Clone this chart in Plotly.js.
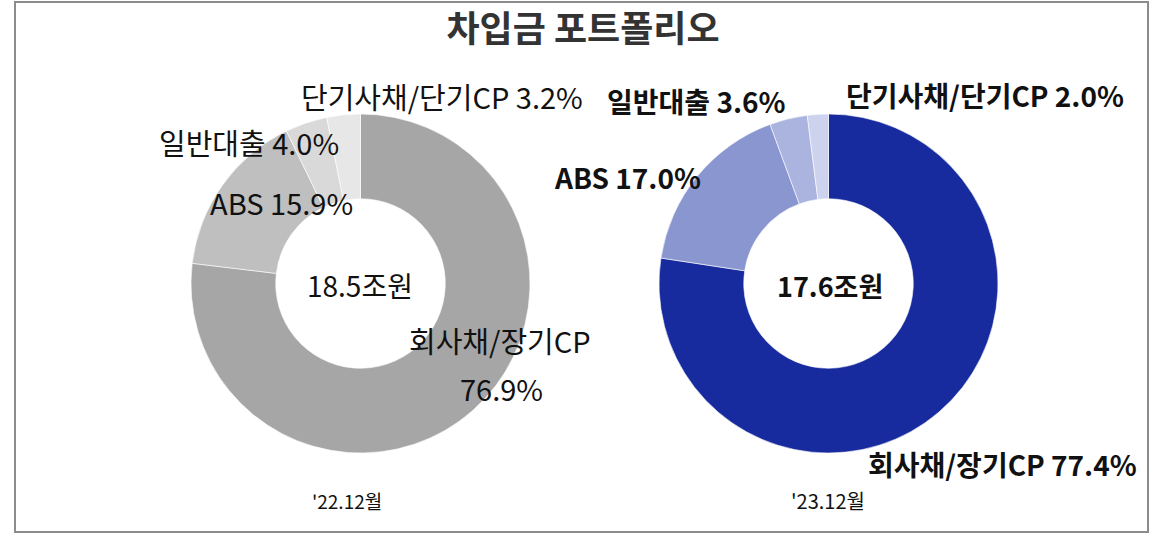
<!DOCTYPE html>
<html>
<head>
<meta charset="utf-8">
<script src="https://cdn.plot.ly/plotly-3.0.1.min.js"></script>
<style>
html,body{margin:0;padding:0;background:#fff;}
#chart{width:1165px;height:534px;}
</style>
</head>
<body>
<div id="chart"></div>
<script>
const categories = ['회사채/장기CP', 'ABS', '일반대출', '단기사채/단기CP'];
const values2022 = [76.9, 15.9, 4.0, 3.2];
const values2023 = [77.4, 17.0, 3.6, 2.0];
const totals = ['18.5', '17.6'];
const periods = ["'22.12월", "'23.12월"];
const colors2022 = ['#a6a6a6', '#bfbfbf', '#d9d9d9', '#e7e7e7'];
const colors2023 = ['#172b9e', '#8a96d0', '#abb3df', '#cdd2ee'];

const W = 1165, H = 534;
const px = x => x / W;
const py = y => 1 - y / H;
const FONT = '"Noto Sans CJK KR", "Noto Sans", sans-serif';

const pieBase = {
  type: 'pie', hole: 0.5, sort: false, direction: 'clockwise', rotation: 0,
  textinfo: 'none', hoverinfo: 'skip', showlegend: false,
};

const data = [
  Object.assign({}, pieBase, {
    labels: categories, values: values2022,
    marker: {colors: colors2022, line: {color: '#ffffff', width: 0.6}},
    domain: {x: [px(191), px(530)], y: [py(453), py(114)]}
  }),
  Object.assign({}, pieBase, {
    labels: categories, values: values2023,
    marker: {colors: colors2023, line: {color: '#ffffff', width: 0.6}},
    domain: {x: [px(659), px(998)], y: [py(453), py(114)]}
  })
];

const lab = (i, v) => categories[i] + ' ' + v[i].toFixed(1) + '%';
function ann(text, x, y, bold, size) {
  return {
    text: bold ? '<b>' + text + '</b>' : text,
    x: px(x), y: py(y), xref: 'paper', yref: 'paper',
    xanchor: 'center', yanchor: 'middle', showarrow: false,
    font: {family: FONT, size: size || 28, color: '#111111'}
  };
}

const annotations = [
  // left
  ann(lab(3, values2022), 442, 96, false, 29),
  ann(lab(2, values2022), 249, 142, false, 29),
  ann(lab(1, values2022), 281, 202, false, 29),
  ann(categories[0], 500, 340, false, 29),
  ann(values2022[0].toFixed(1) + '%', 501, 388, false, 29),
  ann(totals[0] + '조원', 360, 285, false, 28),
  ann(periods[0], 347, 500, false, 19),
  // right
  ann(lab(2, values2023), 696, 101, true, 28),
  ann(lab(3, values2023), 985, 95, true, 28),
  ann(lab(1, values2023), 627, 177, true, 28),
  ann(lab(0, values2023), 1002, 464, true, 28),
  ann(totals[1] + '조원', 830, 285, true, 27),
  ann(periods[1], 828, 500, false, 20)
];

const layout = {
  width: W, height: H,
  margin: {l: 0, r: 0, t: 0, b: 0},
  paper_bgcolor: '#ffffff', plot_bgcolor: '#ffffff',
  title: {
    text: '<b>차입금 포트폴리오</b>',
    x: px(583), xanchor: 'center', y: py(29), yanchor: 'middle', yref: 'paper',
    font: {family: FONT, size: 36, color: '#333333'}
  },
  shapes: [{
    type: 'rect', xref: 'paper', yref: 'paper',
    x0: px(15), x1: px(1148), y0: py(532), y1: py(2),
    line: {color: '#8c8c8c', width: 2}, fillcolor: 'rgba(0,0,0,0)'
  }],
  annotations: annotations
};

Plotly.newPlot('chart', data, layout, {displayModeBar: false, staticPlot: true});
</script>
</body>
</html>
